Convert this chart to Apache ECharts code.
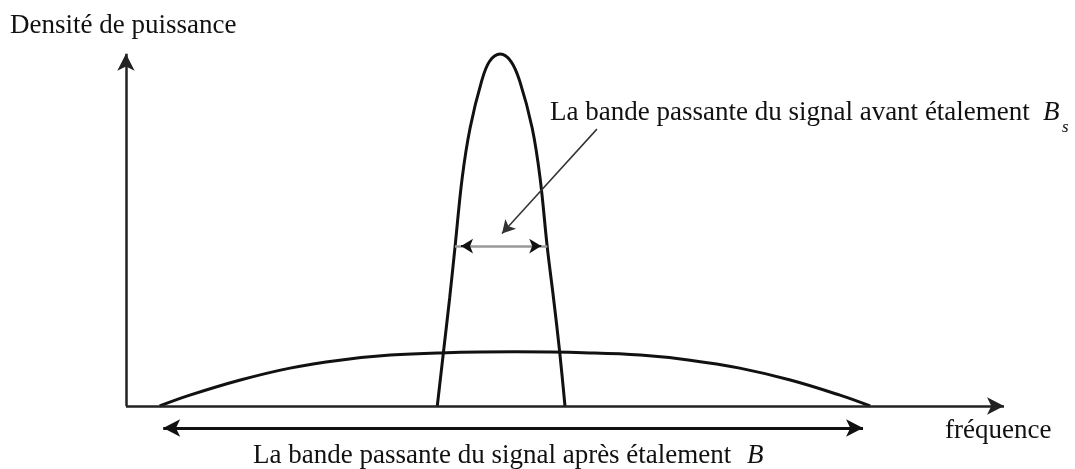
<!DOCTYPE html>
<html>
  <head>
    <meta charset="utf-8" />
    <title>Etalement de spectre</title>
    <script src="https://cdn.jsdelivr.net/npm/echarts@6/dist/echarts.min.js"></script>
    <style>html, body { margin: 0; padding: 0; background: #fff; }</style>
  </head>
  <body>
    <div id="main" style="width: 1075px;height: 469px;"></div>
    <script type="text/javascript">
      // spectre apres etalement (courbe large)
      var freqWide = [3.8, 7.2, 12.9, 18.5, 24.1, 29.8, 35.4, 43.9, 52.3, 58.0, 63.6, 69.2, 74.9, 80.5, 83.9]
      var powerWide = [0, 3.0, 7.2, 10.5, 12.7, 14.1, 14.7, 15.0, 14.7, 14.1, 12.7, 10.5, 7.2, 3.0, 0]
      // spectre avant etalement (courbe etroite)
      var freqNarrow = [35.1, 35.8, 36.5, 37.1, 37.9, 38.8, 40.1, 41.0, 42.2, 43.4, 44.4, 45.8, 46.7, 47.5, 48.2, 48.9, 49.5]
      var powerNarrow = [0, 15, 30, 44, 63, 77, 90, 95.5, 97.5, 95.5, 90, 77, 63, 44, 30, 15, 0]

      // annotations, en unites du graphe
      var axisTop = 97.6
      var axisRight = 99.0
      var bandB = [4.2, 83.1, -6.1]      // debut, fin, niveau
      var bandBs = [37.1, 47.5, 44.3]
      var pointerFrom = [53.1, 76.7]
      var pointerTo = [42.4, 47.8]

      var yLabel = 'Densité de puissance'
      var xLabel = 'fréquence'
      var bsLabel = 'La bande passante du signal avant étalement'
      var bLabel = 'La bande passante du signal après étalement'

      var serif = '"Liberation Serif", "DejaVu Serif", serif'
      var ink = '#111'

      function zip(xs, ys) {
        return xs.map(function (x, i) { return [x, ys[i]] })
      }

      function seg(a, b, color, width, symFrom, symTo, size) {
        return [
          { coord: a, symbol: symFrom, symbolSize: size, lineStyle: { color: color, width: width, type: 'solid' } },
          { coord: b, symbol: symTo, symbolSize: size }
        ]
      }

      var myChart = echarts.init(document.getElementById('main'))

      var option = {
        animation: false,
        grid: { left: 0, right: 0, top: 0, bottom: 0 },
        xAxis: { type: 'value', min: -14.2, max: 107.0, show: false },
        yAxis: { type: 'value', min: -17.45, max: 112.47, show: false },
        graphic: [
          { type: 'text', x: 10, y: 26, style: { text: yLabel, font: '27px ' + serif, fill: ink, verticalAlign: 'middle' } },
          { type: 'text', x: 550, y: 113, style: { text: bsLabel, font: '27px ' + serif, fill: ink, verticalAlign: 'middle' } },
          { type: 'text', x: 1043, y: 113, style: { text: 'B', font: 'italic 27px ' + serif, fill: ink, verticalAlign: 'middle' } },
          { type: 'text', x: 1062, y: 128, style: { text: 's', font: 'italic 17px ' + serif, fill: ink, verticalAlign: 'middle' } },
          { type: 'text', x: 945, y: 431, style: { text: xLabel, font: '27px ' + serif, fill: ink, verticalAlign: 'middle' } },
          { type: 'text', x: 253, y: 456, style: { text: bLabel, font: '27px ' + serif, fill: ink, verticalAlign: 'middle' } },
          { type: 'text', x: 747, y: 456, style: { text: 'B', font: 'italic 27px ' + serif, fill: ink, verticalAlign: 'middle' } }
        ],
        series: [
          {
            name: 'apres',
            type: 'line',
            data: zip(freqWide, powerWide),
            smooth: 0.4,
            showSymbol: false,
            clip: false,
            silent: true,
            lineStyle: { color: ink, width: 3 },
            markLine: {
              silent: true,
              animation: false,
              label: { show: false },
              emphasis: { disabled: true },
              data: [
                seg([0, 0], [0, axisTop], '#222', 2.5, 'none', 'arrow', [13, 17]),
                seg([0, 0], [axisRight, 0], '#222', 2.5, 'none', 'arrow', [13, 17]),
                seg([bandB[0], bandB[2]], [bandB[1], bandB[2]], ink, 3, 'arrow', 'arrow', [13, 17]),
                seg([bandBs[0], bandBs[2]], [bandBs[1], bandBs[2]], '#9a9a9a', 2.5, 'none', 'none', 1),
                seg([bandBs[0] + 1.35, bandBs[2]], [bandBs[0] + 0.68, bandBs[2]], ink, 2, 'none', 'arrow', [11, 12]),
                seg([bandBs[1] - 1.35, bandBs[2]], [bandBs[1] - 0.68, bandBs[2]], ink, 2, 'none', 'arrow', [11, 12]),
                seg(pointerFrom, pointerTo, '#333', 1.5, 'none', 'arrow', [11, 13])
              ]
            }
          },
          {
            name: 'avant',
            type: 'line',
            data: zip(freqNarrow, powerNarrow),
            smooth: 0.35,
            showSymbol: false,
            clip: false,
            silent: true,
            lineStyle: { color: ink, width: 3 }
          }
        ]
      }

      myChart.setOption(option)
    </script>
  </body>
</html>
